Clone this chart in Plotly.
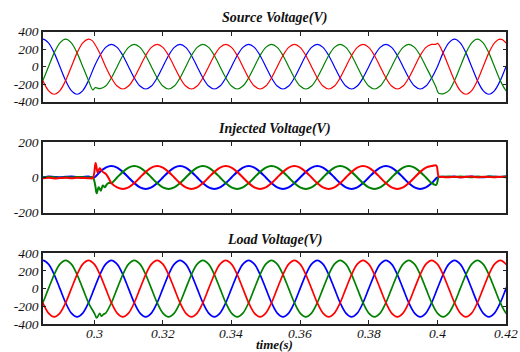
import plotly.graph_objects as go

# ---------------- data ----------------
# sampling grid: 30 degree steps of a 50 Hz signal, sample 10 sits at t = 0.3 s
T_START = 0.3 - 10 / 600
T_STEP = 1 / 600
N_SAMPLES = 84
TIMES = [T_START + k * T_STEP for k in range(N_SAMPLES)]

X_TICKS = [0.3, 0.32, 0.34, 0.36, 0.38, 0.4, 0.42]
X_TICK_TEXT = ["0.3", "0.32", "0.34", "0.36", "0.38", "0.4", "0.42"]
Y_TICKS_400 = [-400, -200, 0, 200, 400]
Y_TICKS_200 = [-200, 0, 200]

TITLES = ["Source Voltage(V)", "Injected Voltage(V)", "Load Voltage(V)"]
X_TITLE = "time(s)"

# Source voltage (V)
SRC_BLUE = [273, 315, 273, 158, 0, -158, -273, -315, -273, -158, 0, 128,
            221, 255, 221, 128, 0, -128, -221, -255, -221, -128, 0, 128,
            221, 255, 221, 128, 0, -128, -221, -255, -221, -128, 0, 128,
            221, 255, 221, 128, 0, -128, -221, -255, -221, -128, 0, 128,
            221, 255, 221, 128, 0, -128, -221, -255, -221, -128, 0, 128,
            221, 255, 221, 128, 0, -128, -221, -255, -221, -128, 0, 158,
            273, 315, 273, 158, 0, -158, -273, -315, -273, -158, 0, 158]
SRC_GREEN = [-273, -158, 0, 158, 273, 315, 273, 158, 0, -158, -262, -250,
             -221, -128, 0, 128, 221, 255, 221, 128, 0, -128, -221, -255,
             -221, -128, 0, 128, 221, 255, 221, 128, 0, -128, -221, -255,
             -221, -128, 0, 128, 221, 255, 221, 128, 0, -128, -221, -255,
             -221, -128, 0, 128, 221, 255, 221, 128, 0, -128, -221, -255,
             -221, -128, 0, 128, 221, 255, 221, 128, 0, -128, -240, -310,
             -273, -158, 0, 158, 273, 315, 273, 158, 0, -158, -273, -315]
SRC_RED = [0, -158, -273, -315, -273, -158, 0, 158, 273, 315, 265, 150,
           0, -128, -221, -255, -221, -128, 0, 128, 221, 255, 221, 128,
           0, -128, -221, -255, -221, -128, 0, 128, 221, 255, 221, 128,
           0, -128, -221, -255, -221, -128, 0, 128, 221, 255, 221, 128,
           0, -128, -221, -255, -221, -128, 0, 128, 221, 255, 221, 128,
           0, -128, -221, -255, -221, -128, 0, 128, 221, 255, 262, 158,
           0, -158, -273, -315, -273, -158, 0, 158, 273, 315, 273, 158]

# Injected voltage (V)
INJ_BLUE = [4, 2, 5, 3, 1, 4, 6, 2, 3, 5, 0, 32,
            56, 65, 56, 32, 0, -32, -56, -65, -56, -32, 0, 32,
            56, 65, 56, 32, 0, -32, -56, -65, -56, -32, 0, 32,
            56, 65, 56, 32, 0, -32, -56, -65, -56, -32, 0, 32,
            56, 65, 56, 32, 0, -32, -56, -65, -56, -32, 0, 32,
            56, 65, 56, 32, 0, -32, -56, -65, -56, -32, 0, 4,
            3, 5, 2, 4, 6, 3, 2, 5, 4, 3, 5, 2]
INJ_GREEN = [2, 0, 3, 1, -1, 2, 0, 3, 1, 0, -20, -60,
             -56, -32, 0, 32, 56, 65, 56, 32, 0, -32, -56, -65,
             -56, -32, 0, 32, 56, 65, 56, 32, 0, -32, -56, -65,
             -56, -32, 0, 32, 56, 65, 56, 32, 0, -32, -56, -65,
             -56, -32, 0, 32, 56, 65, 56, 32, 0, -32, -56, -65,
             -56, -32, 0, 32, 56, 65, 56, 32, 0, -32, -56, 4,
             5, 3, 6, 4, 2, 5, 3, 6, 4, 3, 5, 4]
INJ_RED = [-3, -4, -2, -5, -3, -1, -4, -2, -3, -4, 40, 32,
           0, -32, -56, -65, -56, -32, 0, 32, 56, 65, 56, 32,
           0, -32, -56, -65, -56, -32, 0, 32, 56, 65, 56, 32,
           0, -32, -56, -65, -56, -32, 0, 32, 56, 65, 56, 32,
           0, -32, -56, -65, -56, -32, 0, 32, 56, 65, 56, 32,
           0, -32, -56, -65, -56, -32, 0, 32, 56, 65, 56, 3,
           2, 4, 1, 3, 5, 2, 4, 3, 1, 4, 2, 3]

# Load voltage (V)
LOAD_BLUE = [277, 320, 277, 160, 0, -160, -277, -320, -277, -160, 0, 160,
             277, 320, 277, 160, 0, -160, -277, -320, -277, -160, 0, 160,
             277, 320, 277, 160, 0, -160, -277, -320, -277, -160, 0, 160,
             277, 320, 277, 160, 0, -160, -277, -320, -277, -160, 0, 160,
             277, 320, 277, 160, 0, -160, -277, -320, -277, -160, 0, 160,
             277, 320, 277, 160, 0, -160, -277, -320, -277, -160, 0, 160,
             277, 320, 277, 160, 0, -160, -277, -320, -277, -160, 0, 160]
LOAD_GREEN = [-277, -160, 0, 160, 277, 320, 277, 160, 0, -160, -277, -320,
              -277, -160, 0, 160, 277, 320, 277, 160, 0, -160, -277, -320,
              -277, -160, 0, 160, 277, 320, 277, 160, 0, -160, -277, -320,
              -277, -160, 0, 160, 277, 320, 277, 160, 0, -160, -277, -320,
              -277, -160, 0, 160, 277, 320, 277, 160, 0, -160, -277, -320,
              -277, -160, 0, 160, 277, 320, 277, 160, 0, -160, -277, -320,
              -277, -160, 0, 160, 277, 320, 277, 160, 0, -160, -277, -320]
LOAD_RED = [0, -160, -277, -320, -277, -160, 0, 160, 277, 320, 277, 160,
            0, -160, -277, -320, -277, -160, 0, 160, 277, 320, 277, 160,
            0, -160, -277, -320, -277, -160, 0, 160, 277, 320, 277, 160,
            0, -160, -277, -320, -277, -160, 0, 160, 277, 320, 277, 160,
            0, -160, -277, -320, -277, -160, 0, 160, 277, 320, 277, 160,
            0, -160, -277, -320, -277, -160, 0, 160, 277, 320, 277, 160,
            0, -160, -277, -320, -277, -160, 0, 160, 277, 320, 277, 160]

# transient detail points (time, value) around the sag start / end
SRC_GREEN_EV_T = [0.2996, 0.3003, 0.3996, 0.4003]
SRC_GREEN_EV_V = [-265, -240, -232, -300]
SRC_RED_EV_T = [0.2994, 0.3001, 0.3994, 0.4001]
SRC_RED_EV_V = [298, 262, 255, 266]
INJ_GREEN_EV_T = [0.2996, 0.3003, 0.3007, 0.3013, 0.3019, 0.3025, 0.3031, 0.3037, 0.3045,
                  0.3997, 0.4004]
INJ_GREEN_EV_V = [0, -45, -90, -55, -75, -45, -55, -38, -30, -42, 3]
INJ_RED_EV_T = [0.2996, 0.3004, 0.3010, 0.3016, 0.3025, 0.3035, 0.3045, 0.3997, 0.4004]
INJ_RED_EV_V = [-3, 82, 28, 52, 32, 18, -15, 68, 6]
LOAD_GREEN_EV_T = [0.3003, 0.3007, 0.3016, 0.3021, 0.3027]
LOAD_GREEN_EV_V = [-300, -332, -280, -312, -290]

BLUE = "#0000FF"
GREEN = "#008000"
RED = "#FF0000"


def merge(base_v, ev_t=(), ev_v=()):
    """Base samples plus detail points; base samples inside a detail burst are dropped."""
    pts = list(zip(TIMES, base_v))
    if ev_t:
        bursts, cur = [], [ev_t[0]]
        for a in ev_t[1:]:
            if a - cur[-1] > 0.002:
                bursts.append((cur[0], cur[-1]))
                cur = [a]
            else:
                cur.append(a)
        bursts.append((cur[0], cur[-1]))
        pts = [p for p in pts if not any(lo <= p[0] <= hi for lo, hi in bursts)]
        pts += list(zip(ev_t, ev_v))
    pts.sort()
    return [p[0] for p in pts], [p[1] for p in pts]


panels = [
    [(SRC_BLUE, (), (), BLUE), (SRC_GREEN, SRC_GREEN_EV_T, SRC_GREEN_EV_V, GREEN),
     (SRC_RED, SRC_RED_EV_T, SRC_RED_EV_V, RED)],
    [(INJ_BLUE, (), (), BLUE), (INJ_GREEN, INJ_GREEN_EV_T, INJ_GREEN_EV_V, GREEN),
     (INJ_RED, INJ_RED_EV_T, INJ_RED_EV_V, RED)],
    [(LOAD_BLUE, (), (), BLUE), (LOAD_GREEN, LOAD_GREEN_EV_T, LOAD_GREEN_EV_V, GREEN),
     (LOAD_RED, (), (), RED)],
]
widths = [1.2, 2.0, 1.7]

fig = go.Figure()
for i, panel in enumerate(panels):
    suffix = "" if i == 0 else str(i + 1)
    for base_v, et, ev, col in panel:
        xs, ys = merge(base_v, et, ev)
        fig.add_trace(go.Scatter(
            x=xs, y=ys, mode="lines",
            line=dict(color=col, width=widths[i], shape="spline", smoothing=0.9),
            xaxis="x" + suffix, yaxis="y" + suffix, showlegend=False,
            hoverinfo="skip"))

W, H = 520, 352
L, R = 43, 14
domains_px = [(31.7, 101.7), (142.3, 212.7), (253.3, 324.0)]
yranges = [[-400, 400], [-200, 200], [-400, 400]]
yticks = [Y_TICKS_400, Y_TICKS_200, Y_TICKS_400]

SERIF = "Liberation Serif, Times New Roman, DejaVu Serif, serif"
tick_font = dict(family=SERIF, size=13.5, color="#111111", style="italic")
layout = dict(
    width=W, height=H,
    margin=dict(l=L, r=R, t=0, b=0, pad=0, autoexpand=False),
    paper_bgcolor="white", plot_bgcolor="white",
    showlegend=False,
    font=dict(family=SERIF),
)
for i in range(3):
    suffix = "" if i == 0 else str(i + 1)
    top, bot = domains_px[i]
    layout["xaxis" + suffix] = dict(
        domain=[0, 1], range=[0.28507, 0.4200], anchor="y" + suffix,
        tickvals=X_TICKS, showticklabels=False,
        ticks="inside", ticklen=4, tickwidth=1, tickcolor="#222",
        showline=True, linecolor="#222", linewidth=1.6, mirror="ticks",
        showgrid=False, zeroline=False, automargin=False,
    )
    layout["yaxis" + suffix] = dict(
        domain=[1 - bot / H, 1 - top / H], range=yranges[i], anchor="x" + suffix,
        tickvals=yticks[i], ticktext=[str(v) for v in yticks[i]],
        ticks="inside", ticklen=3, tickwidth=1, tickcolor="#222",
        showline=True, linecolor="#222", linewidth=1.6, mirror="ticks",
        showgrid=False, zeroline=False, tickfont=tick_font, automargin=False,
    )
fig.update_layout(**layout)

# x tick labels of the bottom panel, placed at the tick values of its axis
for v, txt in zip(X_TICKS, X_TICK_TEXT):
    fig.add_annotation(
        text=txt, xref="x3", yref="paper", x=v, y=1 - 333 / H,
        xanchor="center", yanchor="middle", showarrow=False, font=tick_font)

title_y_px = [18, 129, 240]
for txt, ypx in zip(TITLES, title_y_px):
    fig.add_annotation(
        text="<b><i>%s</i></b>" % txt, xref="paper", yref="paper",
        x=0.5, y=1 - ypx / H, xanchor="center", yanchor="middle", showarrow=False,
        font=dict(family=SERIF, size=14, color="#111"))
fig.add_annotation(
    text="<b><i>%s</i></b>" % X_TITLE, xref="paper", yref="paper",
    x=0.5, y=1 - 344.5 / H, xanchor="center", yanchor="middle", showarrow=False,
    font=dict(family=SERIF, size=13, color="#111"))

fig.write_html("out.html")
